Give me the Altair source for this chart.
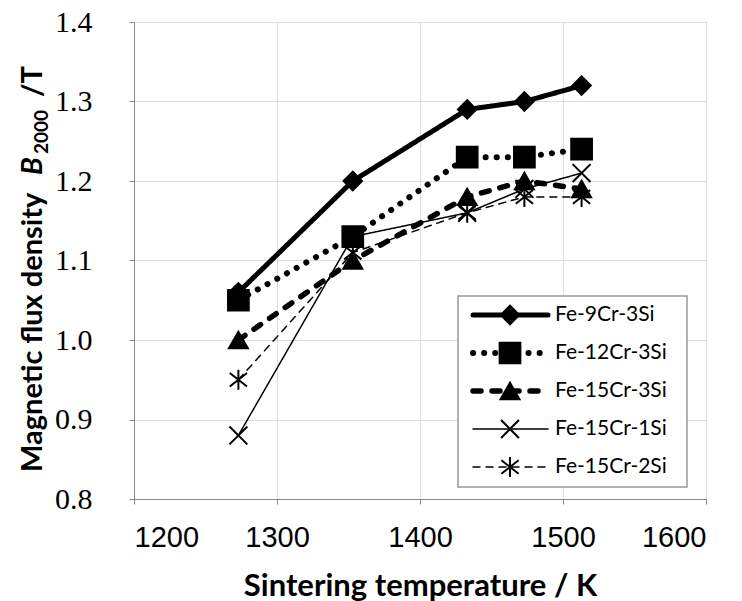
import altair as alt
import pandas as pd

# ---- data ----
temps = [1273, 1353, 1433, 1473, 1513]
series_names = ["Fe-9Cr-3Si", "Fe-12Cr-3Si", "Fe-15Cr-3Si", "Fe-15Cr-1Si", "Fe-15Cr-2Si"]
b_fe9cr3si = [1.06, 1.20, 1.29, 1.30, 1.32]
b_fe12cr3si = [1.05, 1.13, 1.23, 1.23, 1.24]
b_fe15cr3si = [1.00, 1.10, 1.18, 1.20, 1.19]
b_fe15cr1si = [0.88, 1.13, 1.16, 1.19, 1.21]
b_fe15cr2si = [0.95, 1.11, 1.16, 1.18, 1.18]
x_ticks = [1200, 1300, 1400, 1500, 1600]
y_ticks = [0.8, 0.9, 1.0, 1.1, 1.2, 1.3, 1.4]

all_vals = [b_fe9cr3si, b_fe12cr3si, b_fe15cr3si, b_fe15cr1si, b_fe15cr2si]
rows = []
for name, vals in zip(series_names, all_vals):
    for t, v in zip(temps, vals):
        rows.append({"series": name, "temp": t, "B": v})
df = pd.DataFrame(rows)
legend_df = pd.DataFrame({"series": series_names})
one = pd.DataFrame({"a": [0]})

# ---- styles ----
X_PATH = "M-1,-1L1,1M-1,1L1,-1"
AST_PATH = "M0,-1.1L0,1.1M-0.95,-0.75L0.95,0.75M-0.95,0.75L0.95,-0.75"
dash_scale = alt.Scale(domain=series_names, range=[[1, 0], [0.1, 11], [8, 11], [1, 0], [7, 6]])
width_scale = alt.Scale(type="ordinal", domain=series_names, range=[5, 6, 5.5, 1.5, 1.5])
shape_scale = alt.Scale(domain=series_names, range=["diamond", "square", "triangle-up", X_PATH, AST_PATH])
size_scale = alt.Scale(type="ordinal", domain=series_names, range=[340, 430, 360, 320, 330])

xs = alt.Scale(domain=[1200, 1600], nice=False, zero=False)
ys = alt.Scale(domain=[0.8, 1.4], nice=False, zero=False)

W, H = 572, 477
AXIS_FONT_X = "Liberation Sans"
AXIS_FONT_Y = "Liberation Serif"
TITLE_FONT = "Lato"

x_axis = alt.Axis(values=x_ticks, format="d", title="Sintering temperature / K",
                  labelFont=AXIS_FONT_X, labelFontSize=29, labelColor="black",
                  labelPadding=19, labelBaseline="top", titleFont=TITLE_FONT, titleFontSize=31,
                  titleFontWeight="bold", titleColor="black", titleY=96,
                  titleBaseline="alphabetic", grid=True)
y_axis = alt.Axis(values=y_ticks, format=".1f", title=None,
                  labelFont=AXIS_FONT_Y, labelFontSize=30, labelColor="black",
                  labelPadding=37, labelBaseline="middle", grid=True)

lines = alt.Chart(df).mark_line(color="black", strokeCap="round", strokeJoin="round").encode(
    x=alt.X("temp:Q", scale=xs, axis=x_axis),
    y=alt.Y("B:Q", scale=ys, axis=y_axis),
    detail="series:N",
    order="temp:Q",
    strokeDash=alt.StrokeDash("series:N", scale=dash_scale, legend=None),
    strokeWidth=alt.StrokeWidth("series:N", scale=width_scale, legend=None),
)

points = alt.Chart(df).mark_point(filled=True, fill="black", stroke="black", strokeWidth=2,
                                  opacity=1, fillOpacity=1, strokeOpacity=1).encode(
    x=alt.X("temp:Q", scale=xs, axis=x_axis),
    y=alt.Y("B:Q", scale=ys, axis=None),
    shape=alt.Shape("series:N", scale=shape_scale, legend=None),
    size=alt.Size("series:N", scale=size_scale, legend=None),
)

# ---- legend drawn inside the plot ----
leg_y = alt.Scale(type="point", domain=series_names, range=[293, 445], padding=0)
leg_box = alt.Chart(one).mark_rect(fill="white", stroke="#9a9a9a", strokeWidth=1.5).encode(
    x=alt.value(324), x2=alt.value(553), y=alt.value(274), y2=alt.value(465))
leg_lines = alt.Chart(legend_df).mark_rule(color="black", strokeCap="round").encode(
    x=alt.value(339), x2=alt.value(414),
    y=alt.Y("series:N", scale=leg_y, axis=None),
    strokeDash=alt.StrokeDash("series:N", scale=dash_scale, legend=None),
    strokeWidth=alt.StrokeWidth("series:N", scale=width_scale, legend=None),
)
leg_points = alt.Chart(legend_df).mark_point(filled=True, fill="black", stroke="black",
                                             strokeWidth=2, opacity=1).encode(
    x=alt.value(376),
    y=alt.Y("series:N", scale=leg_y, axis=None),
    shape=alt.Shape("series:N", scale=shape_scale, legend=None),
    size=alt.Size("series:N", scale=size_scale, legend=None),
)
leg_text = alt.Chart(legend_df).mark_text(align="left", baseline="middle", font=TITLE_FONT,
                                          fontSize=21, color="black").encode(
    x=alt.value(421),
    y=alt.Y("series:N", scale=leg_y, axis=None),
    text="series:N",
)

# ---- y-axis title in pieces (italic B with subscript) ----
def ytitle(txt, ypos, xpos, size, style="normal"):
    return alt.Chart(one).mark_text(text=txt, angle=270, align="left", baseline="alphabetic",
                                    font=TITLE_FONT, fontSize=size, fontWeight="bold",
                                    fontStyle=style, color="black").encode(
        x=alt.value(xpos), y=alt.value(ypos))

yt1 = ytitle("Magnetic flux density", 450, -92, 29)
yt2 = ytitle("B", 153, -92, 29, "italic")
yt3 = ytitle("2000", 132, -86, 19)
yt4 = ytitle("/T", 75, -92, 29)

chart = alt.layer(
    lines, points, leg_box, leg_lines, leg_points, leg_text, yt1, yt2, yt3, yt4
).resolve_scale(y="independent").properties(
    width=W, height=H,
    autosize=alt.AutoSizeParams(type="none"),
    padding={"left": 134, "top": 22, "right": 36, "bottom": 102},
).configure_view(
    stroke="#8a8a8a", strokeWidth=2
).configure_axis(
    gridColor="#8a8a8a", gridWidth=2, gridOpacity=1,
    domain=False, ticks=False
).configure(background="white")

chart.save("out.html", embed_options={"renderer": "svg", "actions": False})
